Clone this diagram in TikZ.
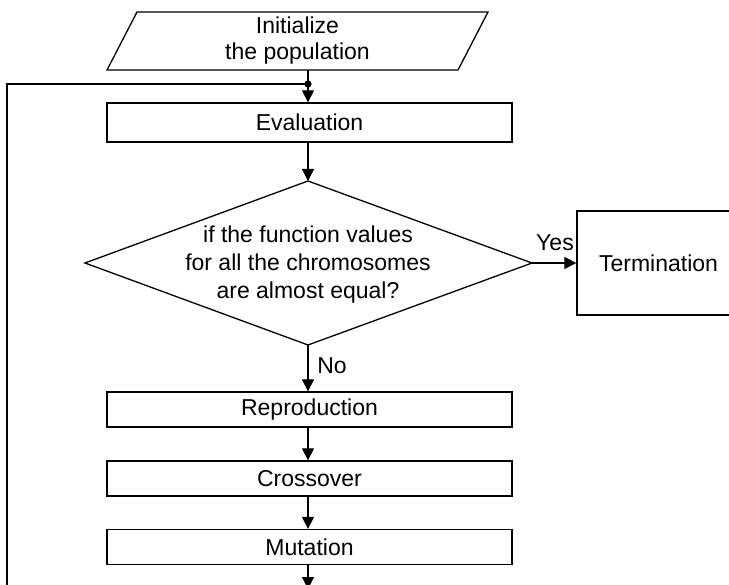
\documentclass[tikz,border=0pt]{standalone}
\usepackage{fontspec}
\setmainfont{Liberation Sans}
\usetikzlibrary{arrows.meta}
\begin{document}
\begin{tikzpicture}[x=1pt,y=-1pt, line width=1.3pt,
  lbl/.style={font=\fontsize{23}{26}\selectfont, align=center, inner sep=0pt},
  box/.style={draw, minimum width=405pt, minimum height=35pt, inner sep=0pt, font=\fontsize{23}{26}\selectfont},
  arr/.style={-{Triangle[length=12pt,width=12pt]}}]
\useasboundingbox (0,0) rectangle (729,585);
\clip (0,0) rectangle (729,585);
% start
\draw (107,70) -- (137,12) -- (488,12) -- (458,70) -- cycle;
\node[lbl] (init) at (297.5,41) {Initialize\\the population};
\coordinate (initb) at (308,70);
\coordinate (dot) at (308,84);
\node[box, minimum height=39pt] (eval) at (309.5,122.5) {Evaluation};
% decision
\coordinate (dtop) at (308,181);
\coordinate (dright) at (532,263);
\coordinate (dbot) at (308,345);
\coordinate (dleft) at (85,263);
\draw (dtop) -- (dright) -- (dbot) -- (dleft) -- cycle;
\node[lbl, font=\fontsize{23}{28}\selectfont] (dtext) at (308,265) {if the function values\\for all the chromosomes\\are almost equal?};
\node[draw, minimum width=163pt, minimum height=104pt, inner sep=0pt, font=\fontsize{23}{26}\selectfont] (term) at (658.5,263) {Termination};
\node[box] (repro) at (309.5,409.5) {Reproduction};
\node[box] (cross) at (309.5,478.5) {Crossover};
\node[box] (mut) at (309.5,547) {Mutation};
\coordinate (bend) at (308,589);
\coordinate (lt) at (7,84);
\coordinate (lb) at (7,590);
% connectors
\draw[arr] (initb) -- (eval.north -| initb);
\fill (dot) circle (3.6pt);
\draw (dot) -- (lt) -- (lb);
\draw[arr] (eval.south -| dtop) -- (dtop);
\draw[arr] (dright) -- (term.west |- dright);
\node[lbl] (yes) at (555,243) {Yes};
\draw[arr] (dbot) -- (repro.north -| dbot);
\node[lbl] (no) at (332,366) {No};
\draw[arr] (repro.south -| dbot) -- (cross.north -| dbot);
\draw[arr] (cross.south -| dbot) -- (mut.north -| dbot);
\draw[arr] (mut.south -| dbot) -- (bend);
\end{tikzpicture}
\end{document}
